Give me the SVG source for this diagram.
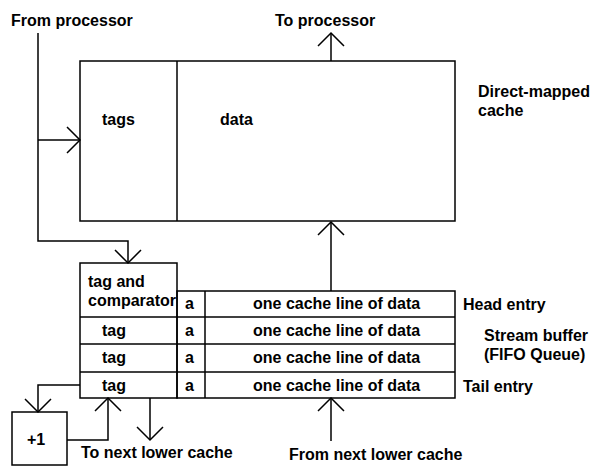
<svg xmlns="http://www.w3.org/2000/svg" width="592" height="466" viewBox="0 0 592 466">
<style>
.b{fill:none;stroke:#000;stroke-width:1.5}
.c{fill:none;stroke:#000;stroke-width:1.5}
text{font-family:"Liberation Sans",Arial,sans-serif;font-size:16px;font-weight:bold;fill:#000}
</style>
<defs>
<marker id="v" markerUnits="userSpaceOnUse" markerWidth="32" markerHeight="32" viewBox="-16 -16 32 32" refX="0" refY="0" orient="auto" overflow="visible">
<path d="M-13,-13 L0,0 L-13,13" fill="none" stroke="#000" stroke-width="1.5"/>
</marker>
</defs>
<rect width="592" height="466" fill="#fff"/>
<g id="labels">
<text x="11" y="26">From processor</text>
<text x="275" y="26">To processor</text>
<text x="478" y="97">Direct-mapped</text>
<text x="478" y="116">cache</text>
<text x="463" y="310">Head entry</text>
<text x="484" y="341">Stream buffer</text>
<text x="484" y="360">(FIFO Queue)</text>
<text x="463" y="392">Tail entry</text>
<text x="81" y="458">To next lower cache</text>
<text x="289" y="460">From next lower cache</text>
</g>
<g id="cache">
<rect class="b" x="80" y="61" width="375" height="160"/>
<line class="b" x1="177" y1="61" x2="177" y2="221"/>
<text x="102" y="125">tags</text>
<text x="220" y="125">data</text>
</g>
<g id="stream-buffer">
<rect class="b" x="80" y="263" width="97" height="135"/>
<rect class="b" x="177" y="291" width="278" height="107"/>
<line class="b" x1="80" y1="317" x2="455" y2="317"/>
<line class="b" x1="80" y1="344" x2="455" y2="344"/>
<line class="b" x1="80" y1="372" x2="455" y2="372"/>
<line class="b" x1="205" y1="291" x2="205" y2="398"/>
<text x="88" y="287">tag and</text>
<text x="88" y="306">comparator</text>
<text x="102" y="336">tag</text>
<text x="102" y="363">tag</text>
<text x="102" y="391">tag</text>
<text x="185" y="309">a</text>
<text x="185" y="336">a</text>
<text x="185" y="363">a</text>
<text x="185" y="391">a</text>
<text x="253" y="309">one cache line of data</text>
<text x="253" y="336">one cache line of data</text>
<text x="253" y="363">one cache line of data</text>
<text x="253" y="391">one cache line of data</text>
</g>
<g id="incrementer">
<rect class="b" x="12" y="412" width="55" height="53"/>
<text x="27" y="445">+1</text>
</g>
<g id="connectors">
<polyline class="c" points="38,33 38,241 128,241 128,263" marker-end="url(#v)"/>
<line class="c" x1="38" y1="140" x2="80" y2="140" marker-end="url(#v)"/>
<line class="c" x1="331" y1="61" x2="331" y2="33" marker-end="url(#v)"/>
<line class="c" x1="331" y1="291" x2="331" y2="222" marker-end="url(#v)"/>
<polyline class="c" points="80,385 38,385 38,412" marker-end="url(#v)"/>
<polyline class="c" points="67,440 108,440 108,398" marker-end="url(#v)"/>
<line class="c" x1="150" y1="398" x2="150" y2="440" marker-end="url(#v)"/>
<line class="c" x1="331" y1="441" x2="331" y2="398" marker-end="url(#v)"/>
</g>
</svg>
